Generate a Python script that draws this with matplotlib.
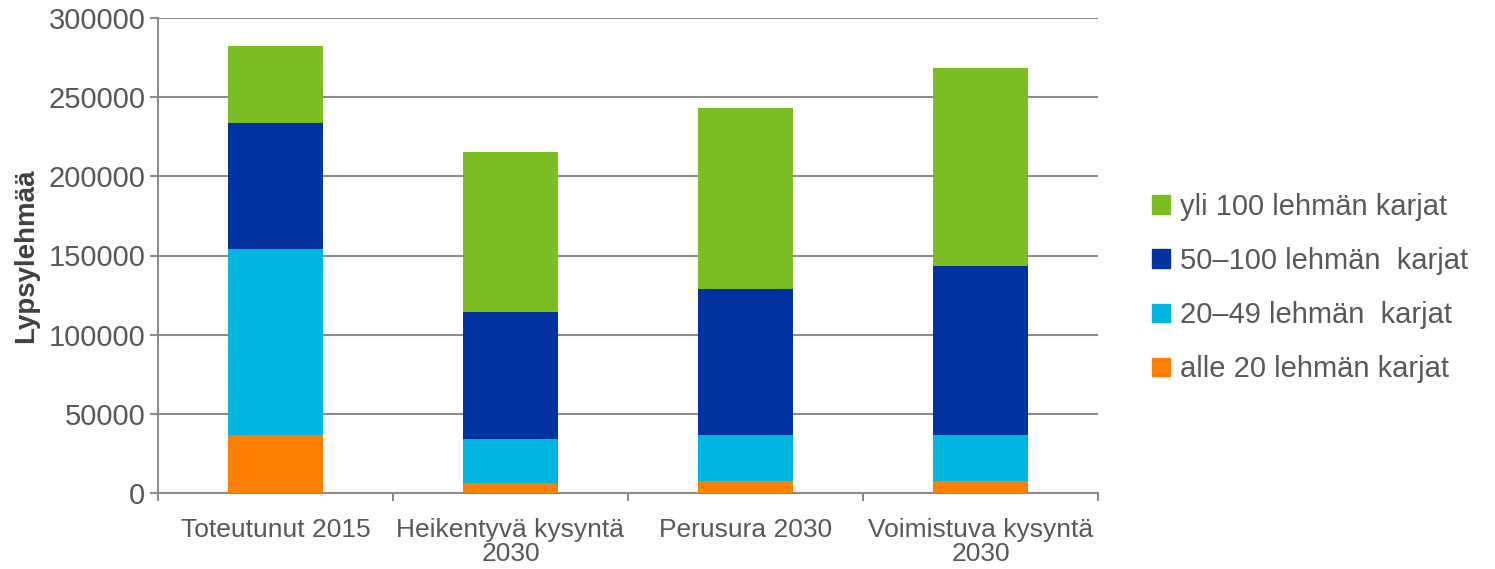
import matplotlib.pyplot as plt
from matplotlib.patches import Patch

# Data
categories = ["Toteutunut 2015", "Heikentyvä kysyntä\n2030", "Perusura 2030", "Voimistuva kysyntä\n2030"]
series_names = ["alle 20 lehmän karjat", "20–49 lehmän  karjat", "50–100 lehmän  karjat", "yli 100 lehmän karjat"]
alle20 = [36800, 6300, 7400, 7400]
l20_49 = [117200, 27700, 29100, 29100]
l50_100 = [80000, 80300, 92400, 106900]
yli100 = [48500, 101100, 114300, 125100]
colors = ["#FF8000", "#00B5E0", "#0033A0", "#7BBD22"]

plt.rcParams['font.family'] = ['Liberation Sans', 'DejaVu Sans']
text_col = "#595959"
grid_col = "#8C8C8C"

fig = plt.figure(figsize=(14.95, 5.69), dpi=100)
ax = fig.add_axes([158/1495, 1 - 493/569, 940/1495, 475/569])

x = range(len(categories))
bottom = [0] * len(categories)
for vals, col in zip([alle20, l20_49, l50_100, yli100], colors):
    ax.bar(x, vals, width=0.404, bottom=bottom, color=col, zorder=3)
    bottom = [b + v for b, v in zip(bottom, vals)]

ax.set_xlim(-0.5, 3.5)
ax.set_ylim(0, 300000)
ax.set_yticks(range(0, 300001, 50000))
ax.yaxis.grid(True, color=grid_col, linewidth=1.5, zorder=0)
ax.set_axisbelow(True)

ax.set_xticks(list(x))
ax.set_xticklabels(categories, fontsize=19, color=text_col, linespacing=1.0)
ax.set_xticks([-0.5, 0.5, 1.5, 2.5, 3.5], minor=True)
ax.tick_params(axis='x', which='major', length=0, pad=18)
ax.tick_params(axis='x', which='minor', length=6, color=grid_col, width=1.5)
ax.tick_params(axis='y', length=6, color=grid_col, width=1.5, labelsize=21, labelcolor=text_col, pad=3)

for s in ["top", "right"]:
    ax.spines[s].set_visible(False)
for s in ["left", "bottom"]:
    ax.spines[s].set_color(grid_col)
    ax.spines[s].set_linewidth(1.5)

ax.set_ylabel("Lypsylehmää", fontsize=20, fontweight='bold', color="#404040")
ax.yaxis.set_label_coords(-0.126, 0.5)

handles = [Patch(color=c, label=n) for c, n in zip(colors, series_names)][::-1]
fig.legend(handles=handles, loc='center left', bbox_to_anchor=(1152/1495, 1 - 288/569),
           frameon=False, fontsize=21, handlelength=0.6, handleheight=0.6,
           handletextpad=0.35, labelspacing=0.9, borderpad=0, borderaxespad=0,
           labelcolor=text_col)

fig.savefig("out.png", dpi=100)
